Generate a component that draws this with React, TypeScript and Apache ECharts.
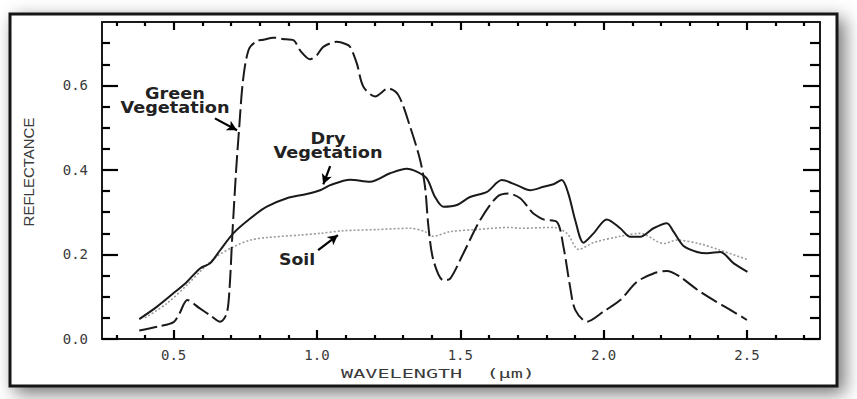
import React, { useEffect, useRef } from "react";
import * as echarts from "echarts";

// ---- data (wavelength µm, reflectance) ----
const greenVegetation: [number, number][] = [
  [0.38, 0.02], [0.45, 0.03], [0.5, 0.04], [0.52, 0.06], [0.548, 0.092], [0.59, 0.073],
  [0.63, 0.055], [0.662, 0.041], [0.685, 0.06], [0.695, 0.12], [0.705, 0.25], [0.718, 0.4],
  [0.728, 0.494], [0.742, 0.612], [0.762, 0.685], [0.79, 0.705], [0.813, 0.708], [0.848, 0.713],
  [0.88, 0.71], [0.918, 0.707], [0.941, 0.683], [0.976, 0.662], [1.0, 0.672], [1.022, 0.691],
  [1.069, 0.703], [1.1, 0.698], [1.116, 0.691], [1.139, 0.652], [1.162, 0.597], [1.203, 0.574],
  [1.249, 0.593], [1.284, 0.577], [1.325, 0.502], [1.36, 0.423], [1.377, 0.36], [1.389, 0.265],
  [1.406, 0.187], [1.441, 0.139], [1.465, 0.143], [1.511, 0.203], [1.569, 0.281], [1.628, 0.336],
  [1.668, 0.344], [1.709, 0.333], [1.744, 0.305], [1.755, 0.297], [1.79, 0.283], [1.837, 0.277],
  [1.86, 0.218], [1.883, 0.124], [1.901, 0.069], [1.942, 0.041], [2.0, 0.065], [2.058, 0.092],
  [2.116, 0.135], [2.174, 0.155], [2.221, 0.161], [2.267, 0.147], [2.326, 0.117], [2.384, 0.092],
  [2.442, 0.069], [2.5, 0.045],
];

const dryVegetation: [number, number][] = [
  [0.38, 0.047], [0.441, 0.076], [0.499, 0.108], [0.546, 0.135], [0.592, 0.167], [0.627, 0.179],
  [0.662, 0.21], [0.708, 0.25], [0.767, 0.285], [0.825, 0.313], [0.895, 0.333], [0.964, 0.343],
  [1.011, 0.352], [1.046, 0.364], [1.116, 0.377], [1.185, 0.372], [1.255, 0.392], [1.313, 0.403],
  [1.348, 0.396], [1.383, 0.38], [1.412, 0.336], [1.441, 0.313], [1.488, 0.317], [1.534, 0.336],
  [1.593, 0.348], [1.645, 0.376], [1.697, 0.364], [1.744, 0.352], [1.79, 0.36], [1.825, 0.366],
  [1.854, 0.376], [1.877, 0.344], [1.901, 0.281], [1.93, 0.228], [1.965, 0.25], [2.011, 0.283],
  [2.058, 0.262], [2.093, 0.242], [2.128, 0.242], [2.174, 0.262], [2.221, 0.274], [2.244, 0.254],
  [2.279, 0.22], [2.326, 0.206], [2.361, 0.203], [2.407, 0.206], [2.454, 0.179], [2.502, 0.159],
];

const soil: [number, number][] = [
  [0.4, 0.05], [0.476, 0.084], [0.55, 0.13], [0.6, 0.165], [0.65, 0.195], [0.708, 0.218],
  [0.767, 0.234], [0.825, 0.24], [0.941, 0.246], [1.011, 0.25], [1.092, 0.256], [1.209, 0.259],
  [1.325, 0.262], [1.377, 0.254], [1.406, 0.243], [1.465, 0.254], [1.558, 0.259], [1.674, 0.264],
  [1.709, 0.262], [1.825, 0.264], [1.872, 0.25], [1.913, 0.212], [1.965, 0.228], [2.058, 0.243],
  [2.128, 0.25], [2.209, 0.226], [2.256, 0.234], [2.337, 0.225], [2.407, 0.21], [2.502, 0.188],
];

// ---- ticks ----
const xMajorTicks = [0.5, 1.0, 1.5, 2.0, 2.5];
const xMinorTicks = [0.3, 0.4, 0.6, 0.7, 0.8, 0.9, 1.1, 1.2, 1.3, 1.4, 1.6, 1.7, 1.8, 1.9, 2.1, 2.2, 2.3, 2.4, 2.6, 2.7];
const yMajorTicks = [0.0, 0.2, 0.4, 0.6];
const yMinorTicks = [0.05, 0.1, 0.15, 0.25, 0.3, 0.35, 0.45, 0.5, 0.55, 0.65, 0.7];

// ---- annotations (arrows in data space: [from, to]) ----
const arrowGreen: [number, number][] = [[0.644, 0.522], [0.721, 0.494]];
const arrowDry: [number, number][] = [[1.046, 0.409], [1.022, 0.366]];
const arrowSoil: [number, number][] = [[1.004, 0.21], [1.073, 0.246]];

const X_MIN = 0.25;
const X_MAX = 2.755;
const Y_MIN = 0;
const Y_MAX = 0.75;

const GRID = { left: 102, top: 22, width: 718, height: 317 };

const INK = "#1a1a1a";
const LABEL = "#3a3a3a";
const MONO = "'DejaVu Sans Mono', 'Liberation Mono', monospace";

// convert a tick length in pixels to data units along each axis
const pxToY = (px: number) => (px * (Y_MAX - Y_MIN)) / GRID.height;
const pxToX = (px: number) => (px * (X_MAX - X_MIN)) / GRID.width;

const seg = (a: [number, number], b: [number, number]) => [
  { coord: a, symbol: "none" },
  { coord: b, symbol: "none" },
];

const xTickSegs = (ticks: number[], lenBottom: number, lenTop: number) =>
  ticks.flatMap((v) => [
    seg([v, Y_MIN], [v, Y_MIN + pxToY(lenBottom)]),
    seg([v, Y_MAX], [v, Y_MAX - pxToY(lenTop)]),
  ]);

const yTickSegs = (ticks: number[], lenLeft: number, lenRight: number) =>
  ticks.flatMap((v) => [
    seg([X_MIN, v], [X_MIN + pxToX(lenLeft), v]),
    seg([X_MAX, v], [X_MAX - pxToX(lenRight), v]),
  ]);

const arrowLine = (a: [number, number][]) => [{ coord: a[0] }, { coord: a[1] }];

export default function App() {
  const ref = useRef<HTMLDivElement>(null);

  useEffect(() => {
    if (!ref.current) return;
    const chart = echarts.init(ref.current, undefined, { renderer: "svg" });

    const axisLine = { show: true, onZero: false, lineStyle: { color: INK, width: 2 } };

    const tickSegments = [
      ...xTickSegs(xMajorTicks, 9, 8),
      ...xTickSegs(xMinorTicks, 4, 4),
      ...yTickSegs(yMajorTicks, 16, 17),
      ...yTickSegs(yMinorTicks, 8, 10),
    ];

    const option: any = {
      animation: false,
      backgroundColor: "#ffffff",
      grid: { ...GRID },
      xAxis: [
        {
          type: "value",
          position: "bottom",
          min: X_MIN,
          max: X_MAX,
          splitLine: { show: false },
          axisLine,
          axisTick: { show: false },
          axisLabel: {
            show: true,
            customValues: xMajorTicks,
            formatter: (v: number) => v.toFixed(1),
            color: LABEL,
            fontFamily: MONO,
            fontSize: 14,
            margin: 9,
          },
        },
        {
          type: "value",
          position: "top",
          min: X_MIN,
          max: X_MAX,
          splitLine: { show: false },
          axisLine,
          axisTick: { show: false },
          axisLabel: { show: false },
        },
      ],
      yAxis: [
        {
          type: "value",
          position: "left",
          min: Y_MIN,
          max: Y_MAX,
          splitLine: { show: false },
          axisLine,
          axisTick: { show: false },
          axisLabel: {
            show: true,
            customValues: yMajorTicks,
            formatter: (v: number) => v.toFixed(1),
            color: LABEL,
            fontFamily: MONO,
            fontSize: 14,
            margin: 14,
          },
        },
        {
          type: "value",
          position: "right",
          min: Y_MIN,
          max: Y_MAX,
          splitLine: { show: false },
          axisLine,
          axisTick: { show: false },
          axisLabel: { show: false },
        },
      ],
      graphic: [
        {
          type: "rect",
          z: -10,
          silent: true,
          shape: { x: 10, y: 14, width: 827, height: 372 },
          style: {
            fill: "#ffffff",
            stroke: "#151515",
            lineWidth: 3,
            shadowBlur: 18,
            shadowOffsetX: 6,
            shadowOffsetY: 6,
            shadowColor: "rgba(0,0,0,0.55)",
          },
        },
        {
          type: "text",
          x: 28,
          y: 172,
          rotation: Math.PI / 2,
          silent: true,
          style: {
            text: "REFLECTANCE",
            fill: LABEL,
            font: "15px 'Liberation Sans', Arial, sans-serif",
            textAlign: "center",
            textVerticalAlign: "middle",
          },
        },
        {
          type: "text",
          x: 438,
          y: 373,
          scaleX: 1.55,
          silent: true,
          style: {
            text: "WAVELENGTH  (µm)",
            fill: LABEL,
            font: "13px " + MONO,
            textAlign: "center",
            textVerticalAlign: "middle",
          },
        },
        {
          type: "text",
          x: 175,
          y: 101,
          scaleX: 1.18,
          silent: true,
          style: {
            text: "Green\nVegetation",
            fill: "#222",
            font: "bold 15px 'DejaVu Sans', sans-serif",
            lineHeight: 14,
            textAlign: "center",
            textVerticalAlign: "middle",
          },
        },
        {
          type: "text",
          x: 328,
          y: 146,
          scaleX: 1.18,
          silent: true,
          style: {
            text: "Dry\nVegetation",
            fill: "#222",
            font: "bold 15px 'DejaVu Sans', sans-serif",
            lineHeight: 14,
            textAlign: "center",
            textVerticalAlign: "middle",
          },
        },
        {
          type: "text",
          x: 297,
          y: 260,
          scaleX: 1.15,
          silent: true,
          style: {
            text: "Soil",
            fill: "#222",
            font: "bold 15px 'DejaVu Sans', sans-serif",
            textAlign: "center",
            textVerticalAlign: "middle",
          },
        },
      ],
      series: [
        {
          name: "Soil",
          type: "line",
          data: soil,
          showSymbol: false,
          smooth: 0.3,
          lineStyle: { color: "#9a9a9a", width: 1.6, type: [2, 2] },
          z: 2,
        },
        {
          name: "Dry Vegetation",
          type: "line",
          data: dryVegetation,
          showSymbol: false,
          smooth: 0.3,
          lineStyle: { color: INK, width: 2 },
          z: 3,
          markLine: {
            silent: true,
            symbol: ["none", "arrow"],
            symbolSize: [8, 10],
            label: { show: false },
            lineStyle: { color: "#000000", width: 2.2, type: "solid" },
            data: [
              arrowLine(arrowGreen),
              arrowLine(arrowDry),
              arrowLine(arrowSoil),
              ...tickSegments,
            ],
          },
        },
        {
          name: "Green Vegetation",
          type: "line",
          data: greenVegetation,
          showSymbol: false,
          smooth: 0.3,
          lineStyle: { color: INK, width: 2, type: [18, 5] },
          z: 4,
        },
      ],
    };

    chart.setOption(option);
    return () => chart.dispose();
  }, []);

  return (
    <div
      ref={ref}
      style={{ position: "absolute", left: 0, top: 0, width: 857, height: 399, background: "#fff" }}
    />
  );
}
